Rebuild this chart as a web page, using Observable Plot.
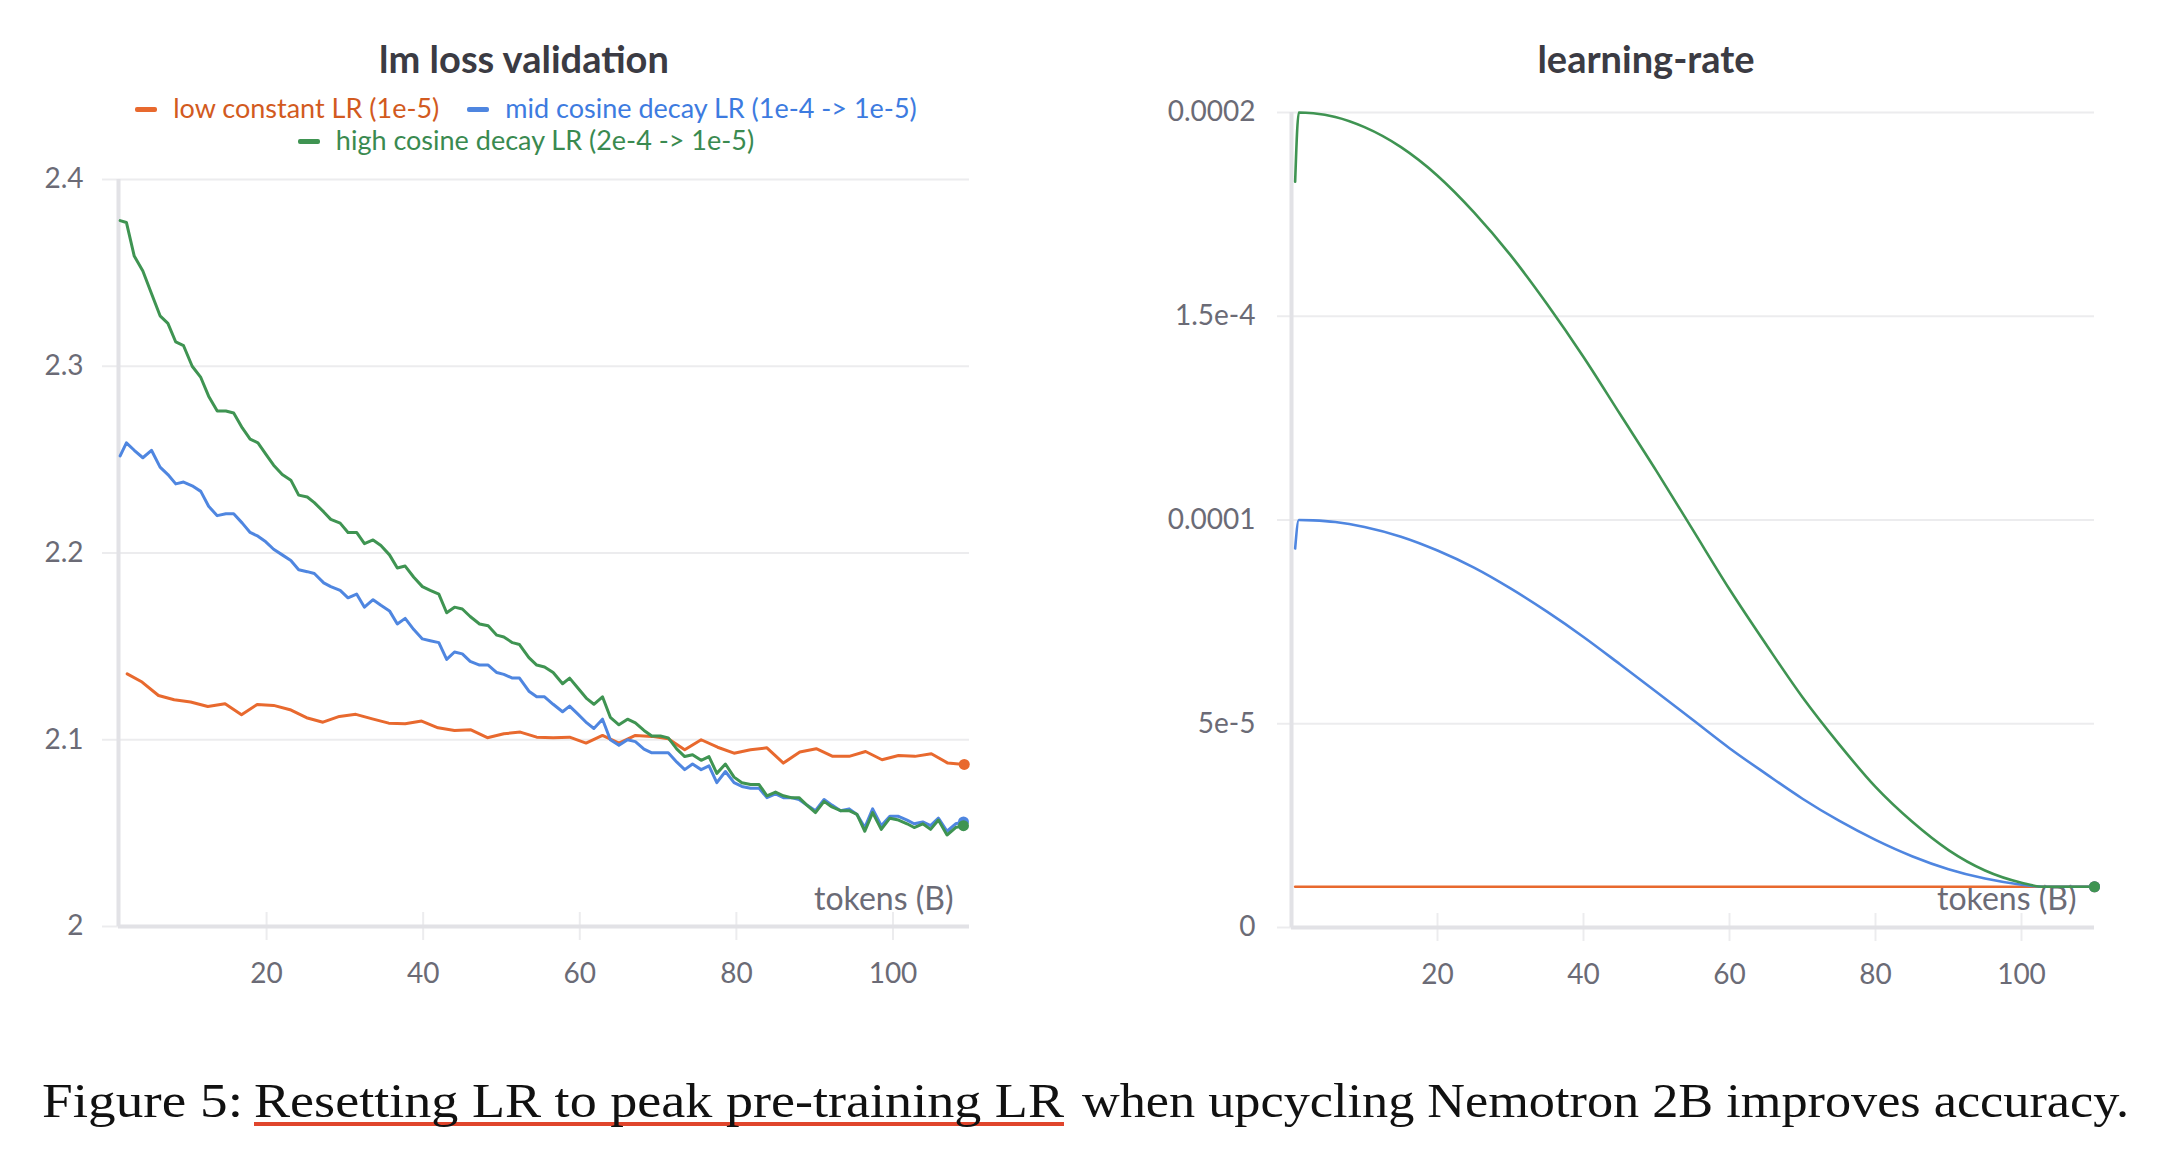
<!DOCTYPE html>
<html>
<head>
<meta charset="utf-8">
<script src="https://cdn.jsdelivr.net/npm/d3@7"></script>
<script src="https://cdn.jsdelivr.net/npm/@observablehq/plot@0.6"></script>
<style>
  html, body { margin: 0; padding: 0; background: #fff; }
  body { width: 2174px; height: 1168px; position: relative; overflow: hidden; font-family: Lato, "Noto Sans", sans-serif; }
  .abs { position: absolute; }
  .title { font-weight: 700; font-size: 38px; color: #3b3b43; text-align: center; line-height: 40px; white-space: nowrap; }
  .legend { font-size: 27px; line-height: 30px; text-align: center; white-space: nowrap; }
  .item { display: inline-block; margin: 0 14px; }
  .sw { display: inline-block; width: 22px; height: 5px; border-radius: 2px; vertical-align: middle; margin-right: 16px; position: relative; top: -2px; }
  .caption { font-family: "Liberation Serif", "DejaVu Serif", serif; font-size: 48px; line-height: 48px; color: #111; white-space: nowrap; transform-origin: 0 0; }
  .link { text-decoration: underline; text-decoration-color: #e0452c; text-decoration-thickness: 4px; text-underline-offset: 5px; text-decoration-skip-ink: none; }
</style>
</head>
<body>
<script>
// ---------- data ----------
const seriesNames = ["low constant LR (1e-5)", "mid cosine decay LR (1e-4 -> 1e-5)", "high cosine decay LR (2e-4 -> 1e-5)"];
const seriesColors = ["#e8692e", "#4f86e0", "#3f9452"];
const legendTextColors = ["#d25a20", "#3d7be0", "#3a8a50"];

const tokensLow = [2.2, 4.1, 6.2, 8.2, 10.3, 12.5, 14.7, 16.8, 18.8, 20.9, 23.0, 25.1, 27.2, 29.3, 31.4, 33.5, 35.6, 37.7, 39.8, 41.9, 44.0, 46.1, 48.2, 50.3, 52.4, 54.5, 56.6, 58.7, 60.8, 62.9, 65.0, 67.1, 69.2, 71.3, 73.4, 75.5, 77.6, 79.7, 81.8, 83.9, 86.0, 88.1, 90.2, 92.3, 94.4, 96.5, 98.6, 100.7, 102.8, 104.9, 107.0, 109.1];
const lossLow = [2.1353, 2.1309, 2.1237, 2.1214, 2.1202, 2.1178, 2.1193, 2.1134, 2.1189, 2.1184, 2.1161, 2.1118, 2.1094, 2.1125, 2.1136, 2.1112, 2.1089, 2.1086, 2.1100, 2.1064, 2.1050, 2.1053, 2.1011, 2.1032, 2.1041, 2.1014, 2.1011, 2.1014, 2.0982, 2.1023, 2.0982, 2.1023, 2.1018, 2.1005, 2.0946, 2.1000, 2.0960, 2.0928, 2.0946, 2.0957, 2.0875, 2.0934, 2.0952, 2.0911, 2.0911, 2.0937, 2.0893, 2.0916, 2.0911, 2.0925, 2.0875, 2.0868];

const tokensFine = [1.3, 2.1, 3.1, 4.2, 5.3, 6.4, 7.4, 8.4, 9.4, 10.5,
  11.6, 12.6, 13.7, 14.8, 15.8, 16.9, 17.9, 18.9, 19.9, 20.9,
  22.0, 23.1, 24.1, 25.2, 26.1, 27.3, 28.2, 29.4, 30.4, 31.5,
  32.5, 33.6, 34.6, 35.7, 36.7, 37.7, 38.8, 39.9, 40.9, 42.0,
  43.0, 44.0, 45.0, 46.0, 47.2, 48.3, 49.4, 50.3, 51.4, 52.3,
  53.5, 54.5, 55.5, 56.6, 57.8, 58.7, 59.7, 60.9, 61.8, 62.9,
  63.9, 65.0, 66.1, 67.1, 68.2, 69.2, 70.3, 71.3, 72.4, 73.4,
  74.4, 75.5, 76.5, 77.5, 78.6, 79.7, 80.7, 81.8, 82.9, 83.9,
  85.0, 86.0, 87.0, 88.0, 89.0, 90.1, 91.2, 92.2, 93.3, 94.4,
  95.4, 96.4, 97.4, 98.5, 99.6, 100.7, 101.8, 102.7, 103.8, 104.8,
  105.8, 106.9, 108.0, 109.0];
const lossMid = [2.252, 2.259, 2.255, 2.251, 2.255, 2.246, 2.242, 2.237, 2.238, 2.236,
  2.233, 2.225, 2.220, 2.221, 2.221, 2.216, 2.211, 2.209, 2.206, 2.202,
  2.199, 2.196, 2.191, 2.190, 2.189, 2.184, 2.182, 2.180, 2.176, 2.178,
  2.171, 2.175, 2.172, 2.169, 2.162, 2.165, 2.159, 2.154, 2.153, 2.152,
  2.143, 2.147, 2.146, 2.142, 2.140, 2.140, 2.136, 2.135, 2.133, 2.133,
  2.126, 2.123, 2.123, 2.119, 2.115, 2.118, 2.114, 2.109, 2.106, 2.111,
  2.100, 2.097, 2.100, 2.099, 2.095, 2.093, 2.093, 2.093, 2.088, 2.084,
  2.087, 2.084, 2.086, 2.077, 2.083, 2.077, 2.075, 2.074, 2.074, 2.069,
  2.071, 2.069, 2.069, 2.068, 2.065, 2.062, 2.068, 2.065, 2.062, 2.063,
  2.060, 2.053, 2.063, 2.054, 2.059, 2.059, 2.057, 2.055, 2.056, 2.054,
  2.058, 2.051, 2.055, 2.056];
const lossHigh = [2.378, 2.377, 2.359, 2.351, 2.339, 2.327, 2.323, 2.313, 2.311, 2.300,
  2.294, 2.284, 2.276, 2.276, 2.275, 2.267, 2.261, 2.259, 2.253, 2.247,
  2.242, 2.239, 2.231, 2.230, 2.227, 2.222, 2.218, 2.216, 2.211, 2.211,
  2.205, 2.207, 2.204, 2.199, 2.192, 2.193, 2.187, 2.182, 2.180, 2.178,
  2.168, 2.171, 2.170, 2.166, 2.162, 2.161, 2.156, 2.155, 2.152, 2.151,
  2.144, 2.140, 2.139, 2.136, 2.130, 2.133, 2.128, 2.122, 2.119, 2.123,
  2.112, 2.108, 2.111, 2.109, 2.105, 2.102, 2.102, 2.101, 2.095, 2.091,
  2.092, 2.089, 2.091, 2.082, 2.087, 2.080, 2.077, 2.076, 2.076, 2.070,
  2.072, 2.070, 2.069, 2.069, 2.065, 2.061, 2.067, 2.064, 2.062, 2.062,
  2.060, 2.051, 2.061, 2.052, 2.058, 2.057, 2.055, 2.053, 2.055, 2.052,
  2.057, 2.049, 2.053, 2.054];

const lrTokens = [0.5, 1, 3, 6, 10, 15, 20, 25, 30, 35, 40, 45, 50, 55, 60, 65, 70, 75, 80, 85, 90, 95, 100, 103, 106, 110];
const lrHigh = [1.83e-4, 2.0e-4, 1.998e-4, 1.989e-4, 1.964e-4, 1.915e-4, 1.845e-4, 1.755e-4, 1.65e-4, 1.53e-4, 1.40e-4, 1.26e-4, 1.12e-4, 0.975e-4, 0.83e-4, 0.695e-4, 0.565e-4, 0.45e-4, 0.345e-4, 0.26e-4, 0.19e-4, 0.14e-4, 0.11e-4, 0.10e-4, 0.10e-4, 0.10e-4];
const lrMid = [0.93e-4, 1.0e-4, 0.999e-4, 0.995e-4, 0.983e-4, 0.959e-4, 0.925e-4, 0.883e-4, 0.832e-4, 0.775e-4, 0.713e-4, 0.646e-4, 0.578e-4, 0.509e-4, 0.44e-4, 0.377e-4, 0.316e-4, 0.262e-4, 0.215e-4, 0.175e-4, 0.143e-4, 0.12e-4, 0.105e-4, 0.10e-4, 0.10e-4, 0.10e-4];
const lrLowTokens = [0.5, 110];
const lrLow = [1e-5, 1e-5];

const xTicks = [20, 40, 60, 80, 100];
const lossYTicks = [2.0, 2.1, 2.2, 2.3, 2.4];
const lossYLabels = ["2", "2.1", "2.2", "2.3", "2.4"];
const lrYTicks = [0, 5e-5, 1e-4, 1.5e-4, 2e-4];
const lrYLabels = ["0", "5e-5", "0.0001", "1.5e-4", "0.0002"];
const xLabel = "tokens (B)";
const titles = ["lm loss validation", "learning-rate"];
const captionParts = ["Figure 5:", "Resetting LR to peak pre-training LR", "when upcycling Nemotron 2B improves accuracy."];

// ---------- helpers ----------
const rows = (ts, vs) => ts.map((t, i) => ({t, v: vs[i]}));
const lastRow = (ts, vs) => [{t: ts[ts.length - 1], v: vs[vs.length - 1]}];

const TICK = "#6b6b76";
const GRID = "#ececee";
const AXIS = "#e2e2e6";

function place(el, left, top) {
  el.style.position = "absolute";
  el.style.left = left + "px";
  el.style.top = top + "px";
  document.body.appendChild(el);
}

// ---------- left: loss ----------
const lossData = [rows(tokensLow, lossLow), rows(tokensFine, lossMid), rows(tokensFine, lossHigh)];
const lossLast = [lastRow(tokensLow, lossLow), lastRow(tokensFine, lossMid), lastRow(tokensFine, lossHigh)];
const lossXDomain = [1.09, 109.77];

const left = Plot.plot({
  width: 990, height: 840,
  marginLeft: 118, marginRight: 21, marginTop: 19, marginBottom: 74,
  style: {fontFamily: "Lato, sans-serif", background: "transparent", overflow: "visible"},
  x: {domain: lossXDomain, label: null},
  y: {domain: [2.0, 2.4], label: null},
  marks: [
    Plot.gridY(lossYTicks, {stroke: GRID, strokeOpacity: 1, strokeWidth: 2}),
    Plot.axisY(lossYTicks, {tickSize: 16, tickPadding: 19, stroke: GRID, strokeWidth: 2, fill: TICK, fontSize: 28, label: null,
      tickFormat: d => lossYLabels[lossYTicks.indexOf(d)]}),
    Plot.axisX(xTicks, {tickSize: 28, dy: -14, tickPadding: 23, stroke: GRID, strokeWidth: 2, fill: TICK, fontSize: 28, label: null}),
    Plot.ruleX([lossXDomain[0]], {stroke: AXIS, strokeWidth: 4}),
    Plot.ruleY([2.0], {stroke: AXIS, strokeWidth: 4}),
    Plot.text([xLabel], {frameAnchor: "bottom-right", dx: -16, dy: -17, textAnchor: "end", fontSize: 32, fill: TICK}),
    ...lossData.map((d, i) => Plot.line(d, {x: "t", y: "v", stroke: seriesColors[i], strokeWidth: 3, strokeLinejoin: "round"})),
    ...lossLast.map((d, i) => Plot.dot(d, {x: "t", y: "v", r: 5.5, fill: seriesColors[i], stroke: "none"}))
  ]
});
place(left, 0, 160);

// ---------- right: learning rate ----------
const lrData = [rows(lrLowTokens, lrLow), rows(lrTokens, lrMid), rows(lrTokens, lrHigh)];
const lrLast = [lastRow(lrLowTokens, lrLow), lastRow(lrTokens, lrMid), lastRow(lrTokens, lrHigh)];

const right = Plot.plot({
  width: 1014, height: 897,
  marginLeft: 191, marginRight: 20, marginTop: 12, marginBottom: 70,
  style: {fontFamily: "Lato, sans-serif", background: "transparent", overflow: "visible"},
  x: {domain: [0, 110], label: null},
  y: {domain: [0, 2e-4], label: null},
  marks: [
    Plot.gridY(lrYTicks, {stroke: GRID, strokeOpacity: 1, strokeWidth: 2}),
    Plot.axisY(lrYTicks, {tickSize: 14, tickPadding: 22, stroke: GRID, strokeWidth: 2, fill: TICK, fontSize: 28, label: null,
      tickFormat: d => lrYLabels[lrYTicks.indexOf(d)]}),
    Plot.axisX(xTicks, {tickSize: 28, dy: -14, tickPadding: 23, stroke: GRID, strokeWidth: 2, fill: TICK, fontSize: 28, label: null}),
    Plot.ruleX([0], {stroke: AXIS, strokeWidth: 4}),
    Plot.ruleY([0], {stroke: AXIS, strokeWidth: 4}),
    Plot.text([xLabel], {frameAnchor: "bottom-right", dx: -18, dy: -18, textAnchor: "end", fontSize: 32, fill: TICK}),
    ...lrData.map((d, i) => Plot.line(d, {x: "t", y: "v", stroke: seriesColors[i], strokeWidth: 2.6, curve: "monotone-x"})),
    ...lrLast.map((d, i) => Plot.dot(d, {x: "t", y: "v", r: 5.5, fill: seriesColors[i], stroke: "none"}))
  ]
});
place(right, 1100, 100);

// ---------- titles & legend ----------
const t1 = document.createElement("div");
t1.className = "abs title"; t1.textContent = titles[0];
t1.style.left = "0px"; t1.style.width = "1048px"; t1.style.top = "38px";
document.body.appendChild(t1);

const t2 = document.createElement("div");
t2.className = "abs title"; t2.textContent = titles[1];
t2.style.left = "1246px"; t2.style.width = "800px"; t2.style.top = "38px";
document.body.appendChild(t2);

const leg = document.createElement("div");
leg.className = "abs legend";
leg.style.left = "0px"; leg.style.width = "1052px"; leg.style.top = "93px";
const lines = [[0, 1], [2]];
lines.forEach((idxs, r) => {
  const row = document.createElement("div");
  if (r === 1) row.style.marginTop = "2px";
  idxs.forEach(i => {
    const it = document.createElement("span");
    it.className = "item";
    const sw = document.createElement("span");
    sw.className = "sw"; sw.style.background = seriesColors[i];
    const tx = document.createElement("span");
    tx.textContent = seriesNames[i]; tx.style.color = legendTextColors[i];
    it.appendChild(sw); it.appendChild(tx);
    row.appendChild(it);
  });
  leg.appendChild(row);
});
document.body.appendChild(leg);

// ---------- caption (each part fitted to its span in the reference) ----------
const capSpans = [[42, 243], [254, 1064], [1082, 2129]];
captionParts.forEach((txt, i) => {
  const d = document.createElement("div");
  d.className = "abs caption";
  d.style.left = capSpans[i][0] + "px"; d.style.top = "1077px";
  const s = document.createElement("span");
  if (i === 1) s.className = "link";
  s.textContent = txt;
  d.appendChild(s);
  document.body.appendChild(d);
  const w = s.getBoundingClientRect().width;
  d.style.transform = `scaleX(${(capSpans[i][1] - capSpans[i][0]) / w})`;
});
</script>
</body>
</html>
